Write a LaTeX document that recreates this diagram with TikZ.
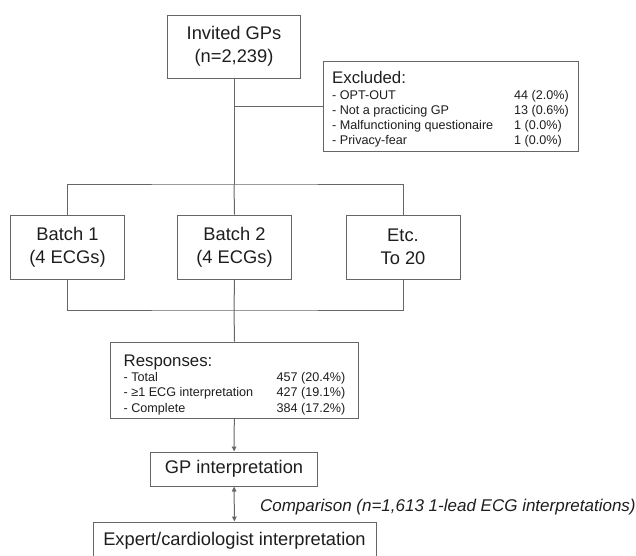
\documentclass[tikz,border=0pt]{standalone}
\usepackage{fontspec}
\setmainfont{Liberation Sans}
\usetikzlibrary{arrows.meta, positioning, calc}
\definecolor{cline}{HTML}{666666}
\definecolor{ctext}{HTML}{1E1E1E}
\tikzset{
  every picture/.style={line width=1pt},
  box/.style={draw=cline, fill=white, align=center, text=ctext, inner sep=0pt,
    font=\fontsize{18.3}{23}\selectfont},
  listbox/.style={draw=cline, fill=white, align=left, text=ctext, inner xsep=#1, inner ysep=0pt,
    font=\fontsize{12.6}{15.2}\selectfont},
  listbox/.default=9pt,
  link/.style={draw=cline},
  arrow/.style={draw=cline, -{Triangle[length=5pt, width=4.5pt]}},
  twoway/.style={draw=cline, {Triangle[length=5pt, width=4.5pt]}-{Triangle[length=5pt, width=4.5pt]}},
  note/.style={font=\fontsize{17}{20}\selectfont\itshape, text=ctext},
}
% heading row of a list box, #1 = extra room above
\newcommand{\listhead}[2]{\multicolumn{2}{@{}l@{}}{\rule{0pt}{#1}\fontsize{16.8}{19}\selectfont #2}}

\begin{document}
\begin{tikzpicture}[x=1pt, y=-1pt]
  \useasboundingbox (0,0) rectangle (636,555);
  \clip (0,0) rectangle (636,555);
  % ---------- invited and excluded ----------
  \node[box, minimum width=133pt, minimum height=63pt] (invited) at (234, 46.5) {Invited GPs\\(n=2,239)};
  \node[listbox, minimum width=255pt, minimum height=90pt] (excl) at (450.5, 106) {%
    \begin{tabular}{@{}p{182pt}@{}l@{}}
      \listhead{21pt}{Excluded:}\\
      - OPT-OUT & 44 (2.0\%)\\
      - Not a practicing GP & 13 (0.6\%)\\
      - Malfunctioning questionaire & 1 (0.0\%)\\
      - Privacy-fear & 1 (0.0\%)
    \end{tabular}};
  \coordinate (top) at (234, 184);
  \coordinate (bot) at (234, 310);
  \draw[link] (invited) -- (top);
  \draw[link] (excl.west) -- (excl.west -| invited.south);
  % ---------- batches ----------
  \foreach \n/\x/\txt in {b1/67.5/{Batch 1\\(4 ECGs)}, b2/234.5/{Batch 2\\(4 ECGs)}, b3/403/{Etc.\\To 20}}
    \node[box, minimum width=114pt, minimum height=64pt] (\n) at (\x, 247) {\txt};
  \draw[link] (b1.north) |- (top) -| (b3.north);
  \draw[link] (top) -- (b2.north);
  \draw[link] (b1.south) |- (bot) -| (b3.south);
  \draw[link] (b2.south) -- (bot);
  % ---------- responses and interpretation ----------
  \node[listbox=13pt, minimum height=76pt] (resp) at (234.5, 380) {%
    \begin{tabular}{@{}p{153pt}@{}l@{}}
      \listhead{23pt}{Responses:}\\
      - Total & 457 (20.4\%)\\
      - ≥1 ECG interpretation & 427 (19.1\%)\\
      - Complete & 384 (17.2\%)
    \end{tabular}};
  \draw[link] (bot) -- (resp.north);
  \node[box, minimum width=167pt, minimum height=34pt] (gp) at (234, 469) {GP interpretation};
  \node[box, minimum width=283pt, minimum height=38pt] (expert) at (234.5, 541) {Expert/cardiologist interpretation};
  \draw[arrow] (resp) -- (gp);
  \draw[twoway] (gp) -- (expert)
    node[note, midway, anchor=west, xshift=22pt, yshift=-3pt] (cmp) {Comparison (n=1,613 1-lead ECG interpretations)};
\end{tikzpicture}
\end{document}
